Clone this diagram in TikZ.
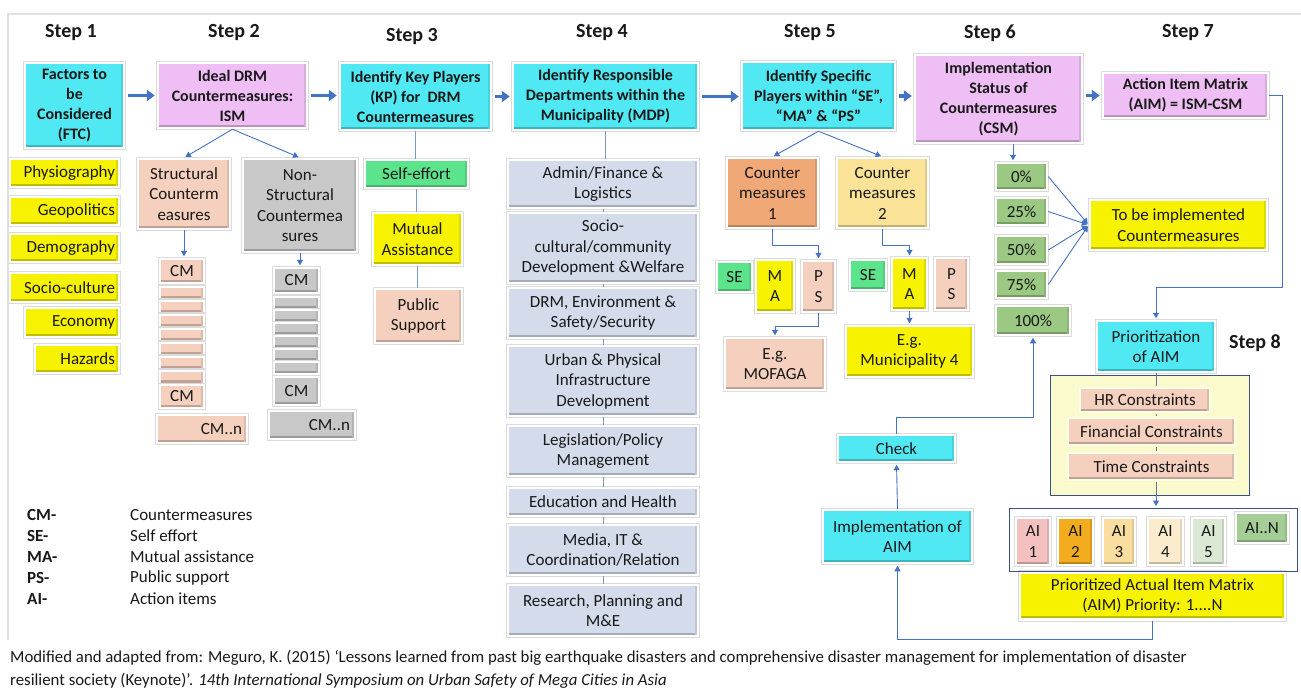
\documentclass[tikz,border=0pt]{standalone}
\usepackage{fontspec}
\setmainfont{Carlito}
\usetikzlibrary{arrows.meta,shadows}
\definecolor{cy}{RGB}{80,232,242}
\definecolor{pk}{RGB}{238,190,245}
\definecolor{yl}{RGB}{246,242,0}
\definecolor{pc}{RGB}{245,208,190}
\definecolor{gy}{RGB}{200,200,200}
\definecolor{gn}{RGB}{92,228,140}
\definecolor{pg}{RGB}{155,200,130}
\definecolor{bgb}{RGB}{212,220,236}
\definecolor{orx}{RGB}{240,168,118}
\definecolor{lyx}{RGB}{250,226,150}
\definecolor{ab}{RGB}{68,114,196}
\definecolor{lnc}{RGB}{120,150,200}
\definecolor{cream}{RGB}{250,250,205}
\definecolor{glow}{RGB}{255,254,232}
\definecolor{nv}{RGB}{60,80,130}
\definecolor{aia}{RGB}{245,192,192}
\definecolor{aib}{RGB}{242,172,30}
\definecolor{aic}{RGB}{250,222,160}
\definecolor{aid}{RGB}{250,236,205}
\definecolor{aie}{RGB}{218,232,212}
\definecolor{aif}{RGB}{165,205,150}
\definecolor{tx}{RGB}{25,25,25}
\definecolor{frc}{RGB}{225,225,225}
\tikzset{
 bx/.style={rectangle, fill=#1, draw=white, line width=2.5pt, inner sep=1pt, align=center, text=tx,
   font=\fontsize{17}{20.5}\selectfont,
   drop shadow={shadow xshift=1.8pt, shadow yshift=-2.4pt, opacity=0.2, fill=black},
   preaction={draw=black!14, line width=4.6pt},
   path picture={\fill[#1!78!black] ([yshift=3.5pt]path picture bounding box.south west) rectangle (path picture bounding box.south east);
                 \fill[#1!90!black] ([xshift=-3pt]path picture bounding box.north east) rectangle (path picture bounding box.south east);}},
 hd/.style={bx=#1, font=\bfseries\fontsize{16}{20}\selectfont},
 strip/.style={bx=#1, line width=2pt},
 steplbl/.style={font=\bfseries\fontsize{20}{24}\selectfont, text=tx},
 big/.style={draw=ab, line width=3.5pt, -{Triangle[length=8pt,width=11pt]}, shorten <=3pt, shorten >=2pt},
 tarr/.style={draw=ab, line width=0.9pt, -{Triangle[length=5.5pt,width=6pt]}, shorten >=1.5pt},
 tln/.style={draw=lnc, line width=0.9pt},
 legk/.style={anchor=west, font=\bfseries\fontsize{17}{20}\selectfont, text=tx, inner sep=0pt},
 legv/.style={anchor=west, font=\fontsize{17}{20}\selectfont, text=tx, inner sep=0pt},
 capt/.style={anchor=west, font=\fontsize{16.8}{19}\selectfont, text=tx, inner sep=0pt},
}
\begin{document}
\begin{tikzpicture}[x=1pt,y=-1pt]
\fill[white] (0,0) rectangle (1301,688);
\useasboundingbox (0,0) rectangle (1301,688);
\draw[frc, line width=1.2pt] (8,640) -- (8,14) -- (1301,14);

% step labels
\node[steplbl] (s1) at (71,33) {Step 1};
\node[steplbl] (s2) at (234,33) {Step 2};
\node[steplbl] (s3) at (412,37) {Step 3};
\node[steplbl] (s4) at (602,33) {Step 4};
\node[steplbl] (s5) at (810,33) {Step 5};
\node[steplbl] (s6) at (990,33) {Step 6};
\node[steplbl] (s7) at (1188,33) {Step 7};
\node[steplbl] (s8) at (1255,343) {Step 8};

% top row
\node[hd=cy, minimum width=99, minimum height=85] (ftc) at (74.5,105.5) {Factors to\\be\\Considered\\(FTC)};
\node[hd=pk, minimum width=149, minimum height=65] (ism) at (232.5,95.5) {Ideal DRM\\Countermeasures:\\ISM};
\node[hd=cy, minimum width=151, minimum height=67] (kp) at (415.5,96.5) {Identify Key Players\\(KP) for\ \ DRM\\Countermeasures};
\node[hd=cy, minimum width=185, minimum height=67] (mdp) at (605.5,96.5) {Identify Responsible\\Departments within the\\Municipality (MDP)};
\node[hd=cy, minimum width=153, minimum height=68] (sp) at (818.5,96) {Identify Specific\\Players within “SE”,\\“MA” \& “PS”};
\node[hd=pk, minimum width=167, minimum height=88] (csm) at (998.5,99) {Implementation\\Status of\\Countermeasures\\(CSM)};
\node[hd=pk, minimum width=165, minimum height=45] (aim) at (1185.5,95.5) {Action Item Matrix\\(AIM) = ISM-CSM};

\draw[big] (ftc.east |- ism.west) -- (ism.west);
\draw[big] (ism.east) -- (ism.east -| kp.west);
\draw[big] (kp.east) -- (kp.east -| mdp.west);
\draw[big] (mdp.east) -- (mdp.east -| sp.west);
\draw[big] (sp.east) -- (sp.east -| csm.west);
\draw[big] (csm.east |- aim.west) -- (aim.west);

% step 1 factors
\node[bx=yl, minimum width=109, minimum height=28, text width=101, align=right] (phys) at (64.5,173) {Physiography};
\node[bx=yl, minimum width=109, minimum height=28, text width=101, align=right] (geo) at (64.5,211) {Geopolitics};
\node[bx=yl, minimum width=109, minimum height=28, text width=101, align=right] (demo) at (64.5,248) {Demography};
\node[bx=yl, minimum width=109, minimum height=29, text width=101, align=right] (soc) at (64.5,287.5) {Socio-culture};
\node[bx=yl, minimum width=94, minimum height=29, text width=86, align=right] (eco) at (72,322.5) {Economy};
\node[bx=yl, minimum width=84, minimum height=28, text width=76, align=right] (haz) at (77,359) {Hazards};

% step 2
\node[bx=pc, minimum width=92, minimum height=70] (str) at (184,194) {Structural\\Counterm\\easures};
\node[bx=gy, minimum width=114, minimum height=93] (nstr) at (300,205.5) {Non-\\Structural\\Countermea\\sures};
\draw[tarr] (ism.south) -- (str.north);
\draw[tarr] (ism.south) -- (nstr.north);

\node[bx=pc, minimum width=44, minimum height=24] (sa) at (182,271) {CM};
\foreach \i/\yy in {1/293,2/307,3/321,4/335,5/349,6/363,7/377}
  \node[strip=pc, minimum width=44, minimum height=13] (sb\i) at (182,\yy) {};
\node[bx=pc, minimum width=44, minimum height=23] (sc) at (182,396.5) {CM};
\node[bx=pc, minimum width=90, minimum height=28, text width=80, align=right] (sn) at (202,429) {CM..n};

\node[bx=gy, minimum width=45, minimum height=25] (na) at (296.5,280.5) {CM};
\foreach \i/\yy in {1/303,2/316,3/329,4/342,5/355,6/368}
  \node[strip=gy, minimum width=45, minimum height=12] (nb\i) at (296.5,\yy) {};
\node[bx=gy, minimum width=45, minimum height=28] (nc) at (296.5,391) {CM};
\node[bx=gy, minimum width=86, minimum height=28, text width=76, align=right] (nn) at (312,425) {CM..n};
\draw[tarr] (str.south) -- (str.south |- sa.north);
\draw[tarr] (nstr.south) -- (nstr.south |- na.north);

% step 3
\node[bx=gn, minimum width=103, minimum height=28] (se0) at (416.5,174) {Self-effort};
\node[bx=yl, minimum width=89, minimum height=52] (mut) at (417.5,239) {Mutual\\Assistance};
\node[bx=pc, minimum width=87, minimum height=54] (pub) at (418.5,316) {Public\\Support};
\draw[tln] (kp.south) -- (kp.south |- se0.north);
\draw[tln] (se0.south) -- (se0.south |- mut.north);
\draw[tln] (mut.south) -- (mut.south |- pub.north);

% step 4
\node[bx=bgb, minimum width=190, minimum height=48] (d1) at (603,184) {Admin/Finance \&\\Logistics};
\node[bx=bgb, minimum width=190, minimum height=70] (d2) at (603,248) {Socio-\\cultural/community\\Development \&Welfare};
\node[bx=bgb, minimum width=190, minimum height=50] (d3) at (603,313) {DRM, Environment \&\\Safety/Security};
\node[bx=bgb, minimum width=190, minimum height=70] (d4) at (603,381) {Urban \& Physical\\Infrastructure\\Development};
\node[bx=bgb, minimum width=190, minimum height=50] (d5) at (603,451) {Legislation/Policy\\Management};
\node[bx=bgb, minimum width=190, minimum height=28] (d6) at (603,502) {Education and Health};
\node[bx=bgb, minimum width=190, minimum height=50] (d7) at (603,550) {Media, IT \&\\Coordination/Relation};
\node[bx=bgb, minimum width=190, minimum height=51] (d8) at (603,610.5) {Research, Planning and\\M\&E};
\draw[tln] (mdp.south) -- (mdp.south |- d1.north);
\foreach \a/\b in {d1/d2,d2/d3,d3/d4,d4/d5,d5/d6,d6/d7,d7/d8}
  \draw[tln] (\a.south) -- (\b.north);

% step 5
\node[bx=orx, minimum width=91, minimum height=70] (cm1) at (772.5,193) {Counter\\measures\\1};
\node[bx=lyx, minimum width=91, minimum height=70] (cm2) at (882.5,193) {Counter\\measures\\2};
\draw[tarr] (sp.south) -- (cm1.north);
\draw[tarr] (sp.south) -- (cm2.north);
\node[bx=gn, minimum width=35, minimum height=30] (se1) at (734.5,277) {SE};
\node[bx=yl, minimum width=38, minimum height=52] (ma1) at (775,286) {M\\A};
\node[bx=pc, minimum width=33, minimum height=51] (ps1) at (818.5,286.5) {P\\S};
\node[bx=pc, minimum width=100, minimum height=52] (mofaga) at (775,364) {E.g.\\MOFAGA};
\node[bx=gn, minimum width=36, minimum height=30] (se2) at (868,275) {SE};
\node[bx=yl, minimum width=35, minimum height=52] (ma2) at (909.5,284) {M\\A};
\node[bx=pc, minimum width=33, minimum height=52] (ps2) at (951.5,284) {P\\S};
\node[bx=yl, minimum width=127, minimum height=51] (mun) at (909.5,351.5) {E.g.\\Municipality 4};
\draw[tarr] (cm1.south) -- ++(0,16) -| (ps1.north);
\draw[tarr] (ps1.south) -- ++(0,13) -| (mofaga.north);
\draw[tarr] (cm2.south) -- ++(0,16) -| (ma2.north);
\draw[tarr] (ma2.south) -- (mun.north);

% step 6
\node[bx=pg, minimum width=51, minimum height=27] (p0) at (1021.5,176.5) {0\%};
\node[bx=pg, minimum width=51, minimum height=27] (p25) at (1021.5,211.5) {25\%};
\node[bx=pg, minimum width=51, minimum height=28] (p50) at (1021.5,250) {50\%};
\node[bx=pg, minimum width=51, minimum height=27] (p75) at (1021.5,284.5) {75\%};
\node[bx=pg, minimum width=74, minimum height=29] (p100) at (1033,320.5) {100\%};
\draw[tarr] ([xshift=14.5pt]csm.south) -- ([xshift=14.5pt]csm.south |- p0.north);
\node[bx=yl, minimum width=177, minimum height=50] (tbi) at (1178.5,225) {To be implemented\\Countermeasures};
\foreach \n in {p0,p25,p50,p75}
  \draw[tarr] (\n.east) -- (tbi.west);

% step 7 / 8
\node[bx=cy, minimum width=118, minimum height=51] (prior) at (1156,346.5) {Prioritization\\of AIM};
\coordinate (r1) at (1282,287);
\draw[tarr] (aim.east) -| (r1) -| (prior.north);

\node[rectangle, fill=cream, draw=nv, line width=1pt, minimum width=199, minimum height=120] (cont) at (1149.5,435) {};
\draw[tln, draw=nv!80] (prior.south) -- (prior.south |- cont.south);
\node[bx=pc, draw=glow, preaction={draw=cream, line width=4.6pt}, minimum width=130, minimum height=24] (hr) at (1145,400) {HR Constraints};
\node[bx=pc, draw=glow, preaction={draw=cream, line width=4.6pt}, minimum width=167, minimum height=27] (fin) at (1151.5,431.5) {Financial Constraints};
\node[bx=pc, draw=glow, preaction={draw=cream, line width=4.6pt}, minimum width=167, minimum height=27] (tim) at (1151.5,466.5) {Time Constraints};

\node[rectangle, fill=white, draw=nv, line width=1pt, minimum width=288, minimum height=63] (aibox) at (1153,539.5) {};
\draw[tarr] (prior.south |- cont.south) -- (prior.south |- aibox.north);
\node[bx=aia, minimum width=34, minimum height=47] (ai1) at (1033,541.5) {AI\\1};
\node[bx=aib, minimum width=35, minimum height=47] (ai2) at (1075.5,541.5) {AI\\2};
\node[bx=aic, minimum width=32, minimum height=47] (ai3) at (1119,541.5) {AI\\3};
\node[bx=aid, minimum width=35, minimum height=47] (ai4) at (1165.5,541.5) {AI\\4};
\node[bx=aie, minimum width=33, minimum height=47] (ai5) at (1208.5,541.5) {AI\\5};
\node[bx=aif, minimum width=52, minimum height=30] (ain) at (1262,528) {AI..N};
\node[bx=yl, minimum width=265, minimum height=47] (paim) at (1152.5,596) {Prioritized Actual Item Matrix\\(AIM) Priority: 1....N};
\draw[nv, line width=1pt] (aibox.south west) -- (aibox.south east);

\node[bx=cy, minimum width=149, minimum height=53] (impl) at (897.5,536.5) {Implementation of\\AIM};
\node[bx=cy, minimum width=117, minimum height=27] (check) at (896.5,448.5) {Check};
\coordinate (b1) at (897.5,639);
\draw[tarr] (paim.south) |- (b1) -- (impl.south);
\draw[tarr] (impl.north) -- (check.south);
\coordinate (c1) at (1033,417);
\draw[tarr] (check.north) |- (c1) -- (p100.south);

% legend
\node[legk] (k1) at (27,515) {CM-};  \node[legv] (v1) at (130,515) {Countermeasures};
\node[legk] (k2) at (27,536) {SE-};  \node[legv] (v2) at (130,536) {Self effort};
\node[legk] (k3) at (27,557) {MA-};  \node[legv] (v3) at (130,557) {Mutual assistance};
\node[legk] (k4) at (27,578) {PS-};  \node[legv] (v4) at (130,578) {Public support};
\node[legk] (k5) at (27,599) {AI-};  \node[legv] (v5) at (130,599) {Action items};

% caption
\node[capt] (cap1) at (10,658) {Modified and adapted from: Meguro, K. (2015) ‘Lessons learned from past big earthquake disasters and comprehensive disaster management for implementation of disaster};
\node[capt] (cap2) at (10,681) {resilient society (Keynote)’. \textit{14th International Symposium on Urban Safety of Mega Cities in Asia}};
\end{tikzpicture}
\end{document}
